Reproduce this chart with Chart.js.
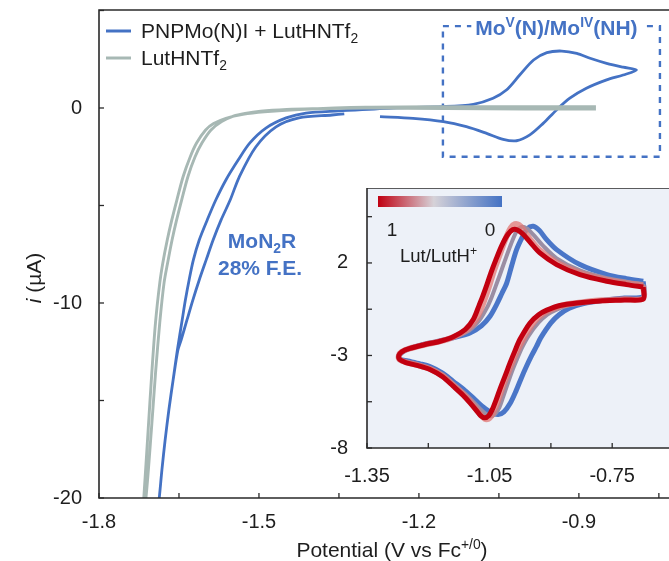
<!DOCTYPE html>
<html><head><meta charset="utf-8">
<script src="https://cdn.jsdelivr.net/npm/chart.js@4.4.0/dist/chart.umd.min.js"></script>
<style>
html,body{margin:0;padding:0;background:#fff;}
#wrap{position:relative;width:669px;height:561px;overflow:hidden;background:#fff;}
#main{position:absolute;left:0;top:0;}
#inset{position:absolute;left:320px;top:188px;}
</style></head><body>
<div id="wrap"><canvas id="main" width="669" height="561"></canvas><canvas id="inset" width="349" height="310"></canvas></div>
<script>
// ---------- main plot data ----------
const mainXTicks = [-1.8,-1.65,-1.5,-1.35,-1.2,-1.05,-0.9,-0.75];
const mainXLabels = ['-1.8','','-1.5','','-1.2','','-0.9',''];
const mainYTicks = [5,0,-5,-10,-15,-20];
const mainYLabels = ['','0','','-10','','-20'];

// PNPMo(N)I + LutHNTf2
const blueX = [-1.273,-1.211,-1.154,-1.111,-1.073,-1.042,-1.017,-0.992,-0.967,-0.942,-0.917,-0.886,-0.848,-0.817,-0.792,
  -0.817,-0.848,-0.879,-0.904,-0.932,-0.960,-0.985,-1.011,-1.036,-1.061,-1.098,-1.154,-1.25,-1.350,
  -1.412,-1.449,-1.487,-1.517,-1.539,-1.562,-1.581,-1.597,-1.612,-1.623,-1.631,-1.638,-1.644,-1.653,-1.661,-1.669,-1.676,-1.682,-1.687,-1.693,
  -1.687,-1.682,-1.676,-1.669,-1.661,-1.652,-1.646,-1.635,-1.624,-1.612,-1.599,-1.586,-1.571,-1.554,-1.537,-1.506,-1.468,-1.425,-1.363,-1.340];
const blueY = [-0.44,-0.53,-0.70,-0.96,-1.30,-1.61,-1.68,-1.38,-0.79,-0.10,0.50,1.01,1.44,1.69,1.95,
  2.09,2.29,2.55,2.80,2.92,2.84,2.46,1.69,0.92,0.50,0.19,0.07,0.00,-0.15,
  -0.26,-0.51,-1.03,-1.79,-2.67,-3.69,-4.72,-5.74,-6.77,-7.79,-8.82,-9.85,-10.87,-12.41,-13.95,-15.49,-17.03,-18.56,-20.0,-21.4,
  -20.0,-18.56,-17.03,-15.49,-13.95,-12.41,-11.9,-10.87,-9.85,-8.82,-7.79,-6.77,-5.74,-4.72,-3.54,-2.00,-0.97,-0.51,-0.36,-0.30];

// LutHNTf2
const grayX = [-0.868,-1.0,-1.15,-1.30,-1.425,-1.49,-1.53,-1.562,-1.585,-1.60,-1.617,-1.629,-1.642,-1.654,-1.664,-1.672,-1.680,-1.686,-1.694,-1.701,-1.708,-1.716,-1.720,
  -1.712,-1.702,-1.694,-1.686,-1.678,-1.671,-1.663,-1.655,-1.645,-1.633,-1.620,-1.607,-1.590,-1.570,-1.548,-1.526,-1.497,-1.448,-1.40,-1.30,-1.15,-1.0,-0.868];
const grayY = [0.07,0.07,0.07,0.04,-0.08,-0.2,-0.33,-0.53,-0.8,-1.13,-1.8,-2.51,-3.5,-4.72,-5.8,-6.77,-7.9,-8.97,-11.0,-13.6,-16.6,-20,-21.5,
  -20,-16.6,-13.6,-11.0,-8.97,-7.9,-6.77,-5.8,-4.72,-3.5,-2.51,-1.8,-1.13,-0.7,-0.42,-0.28,-0.17,-0.08,-0.04,0.0,-0.03,-0.05,-0.05];

const boxX = [-1.155,-0.748,-0.748,-1.155,-1.155];
const boxY = [4.2,4.2,-2.5,-2.5,4.2];

// ---------- inset data ----------
const insetXTicks = [-1.35,-1.2,-1.05,-0.9,-0.75];
const insetXLabels = ['-1.35','','-1.05','','-0.75'];
const insetYTicks = [4.5,2,-0.5,-3,-5.5,-8];
const insetYLabels = ['','2','','-3','','-8'];

// Lut/LutH+ = 1 (red)
const redX = [-0.674,-0.715,-0.763,-0.829,-0.886,-0.927,-0.950,-0.968,-0.982,-0.993,-1.005,-1.020,-1.035,-1.047,-1.057,-1.066,-1.075,-1.090,-1.110,-1.140,-1.171,-1.210,-1.245,-1.265,-1.272,
  -1.270,-1.255,-1.225,-1.196,-1.165,-1.139,-1.115,-1.098,-1.083,-1.072,-1.062,-1.052,-1.043,-1.034,-1.025,-1.012,-1.000,-0.988,-0.976,-0.951,-0.930,-0.910,-0.878,-0.830,-0.780,-0.720,-0.674];
const redY = [0.70,0.83,1.01,1.37,1.91,2.54,3.10,3.55,3.78,3.80,3.55,2.95,2.15,1.45,0.80,0.25,-0.25,-1.06,-1.60,-2.00,-2.23,-2.42,-2.62,-2.80,-3.00,
  -3.22,-3.38,-3.55,-3.76,-4.15,-4.66,-5.15,-5.56,-5.95,-6.25,-6.37,-6.25,-5.90,-5.40,-4.84,-4.10,-3.40,-2.75,-2.14,-1.24,-0.80,-0.55,-0.30,-0.15,-0.05,0.00,0.05];
// ~0.67 (pink)
const pinkX = [-0.674,-0.715,-0.763,-0.829,-0.886,-0.927,-0.950,-0.966,-0.978,-0.988,-0.998,-1.012,-1.027,-1.040,-1.049,-1.058,-1.067,-1.083,-1.105,-1.138,-1.170,-1.210,-1.245,-1.265,-1.272,
  -1.270,-1.255,-1.225,-1.196,-1.165,-1.139,-1.113,-1.095,-1.080,-1.068,-1.058,-1.047,-1.037,-1.028,-1.018,-1.005,-0.993,-0.980,-0.966,-0.942,-0.920,-0.898,-0.868,-0.822,-0.775,-0.720,-0.674];
const pinkY = [0.78,0.90,1.08,1.46,2.02,2.68,3.25,3.75,4.05,4.10,3.90,3.25,2.35,1.55,0.90,0.30,-0.25,-1.06,-1.60,-2.00,-2.23,-2.42,-2.62,-2.80,-3.00,
  -3.22,-3.36,-3.52,-3.72,-4.10,-4.60,-5.12,-5.55,-5.98,-6.30,-6.45,-6.30,-5.90,-5.35,-4.70,-3.95,-3.30,-2.65,-2.05,-1.20,-0.75,-0.50,-0.27,-0.12,-0.02,0.04,0.08];
// ~0.33 (grey-violet)
const midX = [-0.674,-0.715,-0.763,-0.829,-0.886,-0.920,-0.942,-0.958,-0.972,-0.984,-0.998,-1.013,-1.025,-1.035,-1.045,-1.056,-1.075,-1.100,-1.138,-1.170,-1.210,-1.245,-1.265,-1.272,
  -1.270,-1.255,-1.225,-1.196,-1.165,-1.139,-1.112,-1.092,-1.075,-1.060,-1.047,-1.036,-1.026,-1.017,-1.007,-0.995,-0.983,-0.970,-0.955,-0.930,-0.908,-0.886,-0.858,-0.818,-0.772,-0.720,-0.674];
const midY = [0.86,0.99,1.18,1.60,2.25,2.95,3.50,3.85,3.95,3.70,3.00,2.10,1.35,0.75,0.15,-0.40,-1.10,-1.65,-2.02,-2.24,-2.43,-2.64,-2.82,-3.00,
  -3.21,-3.34,-3.50,-3.68,-4.03,-4.52,-5.03,-5.45,-5.85,-6.15,-6.28,-6.15,-5.80,-5.25,-4.60,-3.85,-3.20,-2.55,-1.95,-1.22,-0.78,-0.52,-0.30,-0.14,-0.03,0.06,0.12];
// Lut/LutH+ = 0 (blue)
const cvBlueX = [-0.674,-0.715,-0.763,-0.829,-0.886,-0.912,-0.928,-0.943,-0.958,-0.970,-0.984,-0.996,-1.008,-1.020,-1.033,-1.049,-1.070,-1.098,-1.140,-1.180,-1.220,-1.255,-1.272,
  -1.270,-1.250,-1.220,-1.196,-1.165,-1.139,-1.110,-1.085,-1.065,-1.047,-1.029,-1.015,-1.000,-0.985,-0.972,-0.960,-0.947,-0.935,-0.925,-0.900,-0.880,-0.855,-0.820,-0.770,-0.720,-0.674];
const cvBlueY = [1.01,1.15,1.37,1.91,2.72,3.30,3.75,3.98,3.85,3.40,2.72,1.85,0.92,0.35,-0.25,-0.88,-1.40,-1.78,-2.05,-2.25,-2.45,-2.70,-3.00,
  -3.20,-3.30,-3.45,-3.60,-3.95,-4.40,-4.90,-5.40,-5.80,-6.08,-6.19,-6.05,-5.60,-4.90,-4.20,-3.60,-3.00,-2.50,-2.05,-1.24,-0.80,-0.45,-0.20,-0.02,0.10,0.20];

const FONT = '"Liberation Sans", Arial, Helvetica, sans-serif';
const BLUE = '#4472c4';
const GRAY = '#a7b8b4';
const INK = '#1e1e1e';

function pts(xs, ys){ return xs.map((x,i)=>({x, y: ys[i]})); }
function closed(xs, ys){ const p = pts(xs, ys); p.push({x: xs[0], y: ys[0]}); return p; }

function rich(ctx, parts, x, y, align, size, color, weight){
  const segs = parts.map(([t,m])=>{
    const s = (m==='sup'||m==='sub') ? size*0.66 : size;
    const f = (m==='it'?'italic ':'') + (weight||'normal') + ' ' + s + 'px ' + FONT;
    ctx.font = f;
    return {t, m, f, w: ctx.measureText(t).width};
  });
  const total = segs.reduce((a,s)=>a+s.w,0);
  let cx = align==='center' ? x-total/2 : (align==='right' ? x-total : x);
  ctx.fillStyle = color; ctx.textAlign='left'; ctx.textBaseline='alphabetic';
  segs.forEach(s=>{
    ctx.font = s.f;
    const dy = s.m==='sup' ? -size*0.40 : (s.m==='sub' ? size*0.22 : 0);
    ctx.fillText(s.t, cx, y+dy);
    cx += s.w;
  });
  return total;
}

function fixedScale(w, h){
  return function(s){ if (w!=null) s.width = w; if (h!=null) s.height = h; };
}

// ---------- main chart ----------
const mainPlugin = {
  id:'mainDecor',
  afterDraw(chart){
    const ctx = chart.ctx, a = chart.chartArea;
    const xs = chart.scales.x, ys = chart.scales.y;
    ctx.save();
    ctx.strokeStyle = '#2a2a2a'; ctx.lineWidth = 1.6;
    ctx.beginPath();
    ctx.moveTo(a.right+2, a.top); ctx.lineTo(a.left, a.top); ctx.lineTo(a.left, a.bottom); ctx.lineTo(a.right+2, a.bottom);
    ctx.stroke();
    ctx.lineWidth = 1.3;
    mainXTicks.forEach(v=>{ const px = xs.getPixelForValue(v); ctx.beginPath(); ctx.moveTo(px, a.bottom); ctx.lineTo(px, a.bottom-5); ctx.stroke(); });
    mainYTicks.forEach(v=>{ const py = ys.getPixelForValue(v); ctx.beginPath(); ctx.moveTo(a.left, py); ctx.lineTo(a.left+5, py); ctx.stroke(); });
    ctx.fillStyle = INK; ctx.font = '20px ' + FONT;
    ctx.textAlign = 'center'; ctx.textBaseline = 'middle';
    mainXTicks.forEach((v,i)=>{ if (mainXLabels[i]) ctx.fillText(mainXLabels[i], xs.getPixelForValue(v), a.bottom+24); });
    ctx.textAlign = 'right';
    mainYTicks.forEach((v,i)=>{ if (mainYLabels[i]) ctx.fillText(mainYLabels[i], a.left-17, ys.getPixelForValue(v)); });
    rich(ctx, [['Potential (V vs Fc',''],['+/0','sup'],[')','']], 392, 557, 'center', 21, INK);
    ctx.save(); ctx.translate(33, 278); ctx.rotate(-Math.PI/2);
    rich(ctx, [['i','it'],[' (\u00b5A)','']], 0, 8, 'center', 21, INK);
    ctx.restore();
    // legend
    ctx.lineWidth = 3;
    ctx.strokeStyle = BLUE; ctx.beginPath(); ctx.moveTo(a.left+7, 31); ctx.lineTo(a.left+32, 31); ctx.stroke();
    ctx.strokeStyle = GRAY; ctx.beginPath(); ctx.moveTo(a.left+7, 58); ctx.lineTo(a.left+32, 58); ctx.stroke();
    rich(ctx, [['PNPMo(N)I + LutHNTf',''],['2','sub']], a.left+42, 38, 'left', 21, INK);
    rich(ctx, [['LutHNTf',''],['2','sub']], a.left+42, 65, 'left', 21, INK);
    // box title
    const bx = (xs.getPixelForValue(boxX[0]) + xs.getPixelForValue(boxX[1]))/2 + 5;
    const by = ys.getPixelForValue(boxY[0]);
    const parts = [['Mo',''],['V','sup'],['(N)/Mo',''],['IV','sup'],['(NH)','']];
    ctx.globalAlpha = 0; const w = rich(ctx, parts, 0, 0, 'left', 21, BLUE, 'bold'); ctx.globalAlpha = 1;
    ctx.fillStyle = '#fff'; ctx.fillRect(bx - w/2 - 4, by - 14, w + 8, 26);
    rich(ctx, parts, bx, by+9, 'center', 21, BLUE, 'bold');
    // MoN2R annotation
    rich(ctx, [['MoN',''],['2','sub'],['R','']], 262, 248, 'center', 21, BLUE, 'bold');
    rich(ctx, [['28% F.E.','']], 260, 275, 'center', 21, BLUE, 'bold');
    ctx.restore();
  }
};

new Chart(document.getElementById('main'), {
  type: 'scatter',
  data: { datasets: [
    { label: 'LutHNTf2', data: pts(grayX, grayY), showLine: true, borderColor: GRAY, borderWidth: 2.9, pointRadius: 0, tension: 0.3, fill: false },
    { label: 'PNPMo(N)I + LutHNTf2', data: pts(blueX, blueY), showLine: true, borderColor: BLUE, borderWidth: 2.8, pointRadius: 0, tension: 0.3, fill: false },
    { label: 'box', data: pts(boxX, boxY), showLine: true, borderColor: BLUE, borderWidth: 2.4, borderDash: [6,6], pointRadius: 0, tension: 0, fill: false }
  ]},
  options: {
    responsive: false, animation: false, devicePixelRatio: 1,
    layout: { padding: { top: 10, left: 0, right: 0, bottom: 0 } },
    plugins: { legend: { display: false }, tooltip: { enabled: false } },
    scales: {
      x: { type: 'linear', min: -1.8, max: -0.731, ticks: { display: false }, grid: { display: false }, border: { display: false }, afterFit: fixedScale(null, 63) },
      y: { type: 'linear', min: -20, max: 5.025, ticks: { display: false }, grid: { display: false }, border: { display: false }, afterFit: fixedScale(99, null) }
    }
  },
  plugins: [mainPlugin]
});

// ---------- inset chart ----------
const insetPlugin = {
  id:'insetDecor',
  beforeDraw(chart){
    const ctx = chart.ctx, a = chart.chartArea;
    ctx.save(); ctx.fillStyle = '#edf1f8'; ctx.fillRect(a.left, a.top, a.right-a.left+2, a.bottom-a.top); ctx.restore();
  },
  afterDraw(chart){
    const ctx = chart.ctx, a = chart.chartArea;
    const xs = chart.scales.x, ys = chart.scales.y;
    ctx.save();
    ctx.strokeStyle = '#2a2a2a'; ctx.lineWidth = 1.6;
    ctx.beginPath();
    ctx.moveTo(a.right+2, a.top); ctx.lineTo(a.left, a.top); ctx.lineTo(a.left, a.bottom); ctx.lineTo(a.right+2, a.bottom);
    ctx.stroke();
    ctx.lineWidth = 1.3;
    insetXTicks.forEach(v=>{ const px = xs.getPixelForValue(v); ctx.beginPath(); ctx.moveTo(px, a.bottom); ctx.lineTo(px, a.bottom-5); ctx.stroke(); });
    insetYTicks.forEach(v=>{ const py = ys.getPixelForValue(v); ctx.beginPath(); ctx.moveTo(a.left, py); ctx.lineTo(a.left+5, py); ctx.stroke(); });
    ctx.fillStyle = INK; ctx.font = '20px ' + FONT;
    ctx.textAlign = 'center'; ctx.textBaseline = 'middle';
    insetXTicks.forEach((v,i)=>{ if (insetXLabels[i]) ctx.fillText(insetXLabels[i], xs.getPixelForValue(v), a.bottom+28); });
    ctx.textAlign = 'right';
    insetYTicks.forEach((v,i)=>{ if (insetYLabels[i]) ctx.fillText(insetYLabels[i], a.left-19, ys.getPixelForValue(v)); });
    // colour bar
    const gx = a.left+11, gy = a.top+8, gw = 124, gh = 11;
    const g = ctx.createLinearGradient(gx, 0, gx+gw, 0);
    g.addColorStop(0, '#c00012'); g.addColorStop(0.45, '#d6d2d8'); g.addColorStop(1, '#4472c4');
    ctx.fillStyle = g; ctx.fillRect(gx, gy, gw, gh);
    ctx.font = '19px ' + FONT; ctx.fillStyle = INK; ctx.textAlign = 'center'; ctx.textBaseline = 'alphabetic';
    ctx.fillText('1', a.left+25, a.top+48);
    ctx.fillText('0', a.left+123, a.top+48);
    rich(ctx, [['Lut/LutH',''],['+','sup']], a.left+33, a.top+74, 'left', 18.5, INK);
    ctx.restore();
  }
};

new Chart(document.getElementById('inset'), {
  type: 'scatter',
  data: { datasets: [
    { label: '1', data: closed(redX, redY), showLine: true, borderColor: '#c20010', borderWidth: 5, pointRadius: 0, tension: 0.3, fill: false },
    { label: '0.67', data: closed(pinkX, pinkY), showLine: true, borderColor: 'rgba(226,120,118,0.75)', borderWidth: 6, pointRadius: 0, tension: 0.3, fill: false },
    { label: '0.33', data: closed(midX, midY), showLine: true, borderColor: '#9a8ea4', borderWidth: 4, pointRadius: 0, tension: 0.3, fill: false },
    { label: '0', data: closed(cvBlueX, cvBlueY), showLine: true, borderColor: '#4a76c8', borderWidth: 5, pointRadius: 0, tension: 0.3, fill: false }
  ]},
  options: {
    responsive: false, animation: false, devicePixelRatio: 1,
    layout: { padding: { top: 0, left: 0, right: 0, bottom: 0 } },
    plugins: { legend: { display: false }, tooltip: { enabled: false } },
    scales: {
      x: { type: 'linear', min: -1.35, max: -0.611, ticks: { display: false }, grid: { display: false }, border: { display: false }, afterFit: fixedScale(null, 50) },
      y: { type: 'linear', min: -8, max: 6.05, ticks: { display: false }, grid: { display: false }, border: { display: false }, afterFit: fixedScale(47, null) }
    }
  },
  plugins: [insetPlugin]
});
</script>
</body></html>
